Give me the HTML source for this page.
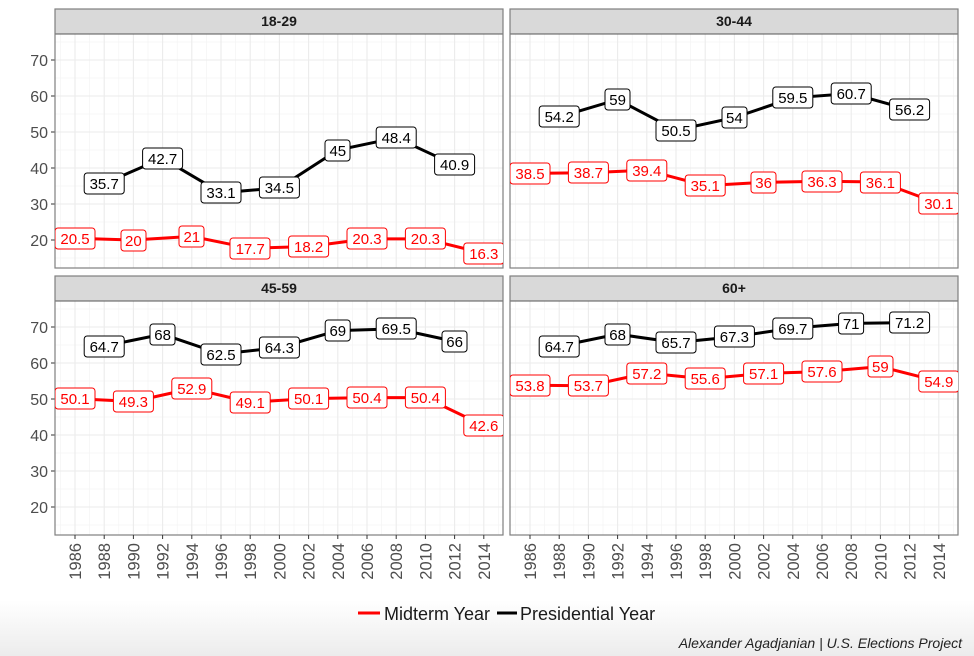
<!DOCTYPE html>
<html><head><meta charset="utf-8"><style>
html,body{margin:0;padding:0;background:#fff}
svg{display:block;font-family:"Liberation Sans",Arial,sans-serif}
.mj{stroke:#ebebeb;stroke-width:1.1}
.mn{stroke:#f4f4f4;stroke-width:0.7}
.yl{font-size:16px;fill:#4d4d4d;text-anchor:end}
.xl{font-size:16.5px;fill:#4d4d4d;text-anchor:end}
.st{font-size:14px;font-weight:bold;fill:#1a1a1a;text-anchor:middle}
.r rect{fill:#fff;stroke:#ff0000;stroke-width:1}
.r text{fill:#ff0000;font-size:15px;text-anchor:middle}
.k rect{fill:#fff;stroke:#000;stroke-width:1}
.k text{fill:#000;font-size:15px;text-anchor:middle}
</style></head><body>
<svg width="974" height="656" viewBox="0 0 974 656">
<defs>
<linearGradient id="bg" x1="0" y1="0" x2="0" y2="1"><stop offset="0" stop-color="#fff"/><stop offset="1" stop-color="#ececec"/></linearGradient>
<g id="grid">
<rect x="55" y="34" width="448" height="234" fill="#fff"/>
<g class="mn">
<line x1="55" x2="503" y1="258" y2="258"/><line x1="55" x2="503" y1="222" y2="222"/><line x1="55" x2="503" y1="186" y2="186"/><line x1="55" x2="503" y1="150" y2="150"/><line x1="55" x2="503" y1="114" y2="114"/><line x1="55" x2="503" y1="78" y2="78"/><line x1="55" x2="503" y1="42" y2="42"/>
<line y1="34" y2="268" x1="60.4" x2="60.4"/><line y1="34" y2="268" x1="89.6" x2="89.6"/><line y1="34" y2="268" x1="118.8" x2="118.8"/><line y1="34" y2="268" x1="148" x2="148"/><line y1="34" y2="268" x1="177.2" x2="177.2"/><line y1="34" y2="268" x1="206.4" x2="206.4"/><line y1="34" y2="268" x1="235.6" x2="235.6"/><line y1="34" y2="268" x1="264.8" x2="264.8"/><line y1="34" y2="268" x1="294" x2="294"/><line y1="34" y2="268" x1="323.2" x2="323.2"/><line y1="34" y2="268" x1="352.4" x2="352.4"/><line y1="34" y2="268" x1="381.6" x2="381.6"/><line y1="34" y2="268" x1="410.8" x2="410.8"/><line y1="34" y2="268" x1="440" x2="440"/><line y1="34" y2="268" x1="469.2" x2="469.2"/><line y1="34" y2="268" x1="498.4" x2="498.4"/>
</g>
<g class="mj">
<line x1="55" x2="503" y1="240" y2="240"/><line x1="55" x2="503" y1="204" y2="204"/><line x1="55" x2="503" y1="168" y2="168"/><line x1="55" x2="503" y1="132" y2="132"/><line x1="55" x2="503" y1="96" y2="96"/><line x1="55" x2="503" y1="60" y2="60"/>
<line y1="34" y2="268" x1="75" x2="75"/><line y1="34" y2="268" x1="104.2" x2="104.2"/><line y1="34" y2="268" x1="133.4" x2="133.4"/><line y1="34" y2="268" x1="162.6" x2="162.6"/><line y1="34" y2="268" x1="191.8" x2="191.8"/><line y1="34" y2="268" x1="221" x2="221"/><line y1="34" y2="268" x1="250.2" x2="250.2"/><line y1="34" y2="268" x1="279.4" x2="279.4"/><line y1="34" y2="268" x1="308.6" x2="308.6"/><line y1="34" y2="268" x1="337.8" x2="337.8"/><line y1="34" y2="268" x1="367" x2="367"/><line y1="34" y2="268" x1="396.2" x2="396.2"/><line y1="34" y2="268" x1="425.4" x2="425.4"/><line y1="34" y2="268" x1="454.6" x2="454.6"/><line y1="34" y2="268" x1="483.8" x2="483.8"/>
</g>
<rect x="55" y="9" width="448" height="25" fill="#d9d9d9" stroke="#555" stroke-width="1"/>
</g>
<clipPath id="c1"><rect x="55" y="34" width="448" height="234"/></clipPath>
<clipPath id="c2"><rect x="510" y="34" width="448" height="234"/></clipPath>
<clipPath id="c3"><rect x="55" y="301" width="448" height="234"/></clipPath>
<clipPath id="c4"><rect x="510" y="301" width="448" height="234"/></clipPath>
</defs>
<rect x="0" y="600" width="974" height="56" fill="url(#bg)"/>
<use href="#grid"/>
<use href="#grid" transform="translate(455,0)"/>
<use href="#grid" transform="translate(0,267)"/>
<use href="#grid" transform="translate(455,267)"/>
<text class="st" x="279" y="26">18-29</text>
<text class="st" x="734" y="26">30-44</text>
<text class="st" x="279" y="293">45-59</text>
<text class="st" x="734" y="293">60+</text>

<g stroke="#333" stroke-width="1">
<line x1="51" x2="55" y1="240" y2="240"/><line x1="51" x2="55" y1="204" y2="204"/><line x1="51" x2="55" y1="168" y2="168"/><line x1="51" x2="55" y1="132" y2="132"/><line x1="51" x2="55" y1="96" y2="96"/><line x1="51" x2="55" y1="60" y2="60"/>
<line x1="51" x2="55" y1="507" y2="507"/><line x1="51" x2="55" y1="471" y2="471"/><line x1="51" x2="55" y1="435" y2="435"/><line x1="51" x2="55" y1="399" y2="399"/><line x1="51" x2="55" y1="363" y2="363"/><line x1="51" x2="55" y1="327" y2="327"/>
</g>
<g class="yl">
<text x="48" y="246">20</text><text x="48" y="210">30</text><text x="48" y="174">40</text><text x="48" y="138">50</text><text x="48" y="102">60</text><text x="48" y="66">70</text>
<text x="48" y="513">20</text><text x="48" y="477">30</text><text x="48" y="441">40</text><text x="48" y="405">50</text><text x="48" y="369">60</text><text x="48" y="333">70</text>
</g>
<g fill="none" stroke="#7f7f7f" stroke-width="1.2">
<rect x="55" y="9" width="448" height="259"/><rect x="510" y="9" width="448" height="259"/>
<rect x="55" y="276" width="448" height="259"/><rect x="510" y="276" width="448" height="259"/>
</g>
<g stroke="#333" stroke-width="1">
<line y1="535" y2="539" x1="75" x2="75"/><line y1="535" y2="539" x1="104.2" x2="104.2"/><line y1="535" y2="539" x1="133.4" x2="133.4"/><line y1="535" y2="539" x1="162.6" x2="162.6"/><line y1="535" y2="539" x1="191.8" x2="191.8"/><line y1="535" y2="539" x1="221" x2="221"/><line y1="535" y2="539" x1="250.2" x2="250.2"/><line y1="535" y2="539" x1="279.4" x2="279.4"/><line y1="535" y2="539" x1="308.6" x2="308.6"/><line y1="535" y2="539" x1="337.8" x2="337.8"/><line y1="535" y2="539" x1="367" x2="367"/><line y1="535" y2="539" x1="396.2" x2="396.2"/><line y1="535" y2="539" x1="425.4" x2="425.4"/><line y1="535" y2="539" x1="454.6" x2="454.6"/><line y1="535" y2="539" x1="483.8" x2="483.8"/>
<line y1="535" y2="539" x1="530" x2="530"/><line y1="535" y2="539" x1="559.2" x2="559.2"/><line y1="535" y2="539" x1="588.4" x2="588.4"/><line y1="535" y2="539" x1="617.6" x2="617.6"/><line y1="535" y2="539" x1="646.8" x2="646.8"/><line y1="535" y2="539" x1="676" x2="676"/><line y1="535" y2="539" x1="705.2" x2="705.2"/><line y1="535" y2="539" x1="734.4" x2="734.4"/><line y1="535" y2="539" x1="763.6" x2="763.6"/><line y1="535" y2="539" x1="792.8" x2="792.8"/><line y1="535" y2="539" x1="822" x2="822"/><line y1="535" y2="539" x1="851.2" x2="851.2"/><line y1="535" y2="539" x1="880.4" x2="880.4"/><line y1="535" y2="539" x1="909.6" x2="909.6"/><line y1="535" y2="539" x1="938.8" x2="938.8"/>
</g>
<g class="xl">
<text transform="translate(81,543) rotate(-90)">1986</text><text transform="translate(110.2,543) rotate(-90)">1988</text><text transform="translate(139.4,543) rotate(-90)">1990</text><text transform="translate(168.6,543) rotate(-90)">1992</text><text transform="translate(197.8,543) rotate(-90)">1994</text><text transform="translate(227,543) rotate(-90)">1996</text><text transform="translate(256.2,543) rotate(-90)">1998</text><text transform="translate(285.4,543) rotate(-90)">2000</text><text transform="translate(314.6,543) rotate(-90)">2002</text><text transform="translate(343.8,543) rotate(-90)">2004</text><text transform="translate(373,543) rotate(-90)">2006</text><text transform="translate(402.2,543) rotate(-90)">2008</text><text transform="translate(431.4,543) rotate(-90)">2010</text><text transform="translate(460.6,543) rotate(-90)">2012</text><text transform="translate(489.8,543) rotate(-90)">2014</text>
<text transform="translate(536,543) rotate(-90)">1986</text><text transform="translate(565.2,543) rotate(-90)">1988</text><text transform="translate(594.4,543) rotate(-90)">1990</text><text transform="translate(623.6,543) rotate(-90)">1992</text><text transform="translate(652.8,543) rotate(-90)">1994</text><text transform="translate(682,543) rotate(-90)">1996</text><text transform="translate(711.2,543) rotate(-90)">1998</text><text transform="translate(740.4,543) rotate(-90)">2000</text><text transform="translate(769.6,543) rotate(-90)">2002</text><text transform="translate(798.8,543) rotate(-90)">2004</text><text transform="translate(828,543) rotate(-90)">2006</text><text transform="translate(857.2,543) rotate(-90)">2008</text><text transform="translate(886.4,543) rotate(-90)">2010</text><text transform="translate(915.6,543) rotate(-90)">2012</text><text transform="translate(944.8,543) rotate(-90)">2014</text>
</g>

<g clip-path="url(#c1)">
<polyline fill="none" stroke="#ff0000" stroke-width="3" points="75,238.2 133.4,240 191.8,236.4 250.2,248.3 308.6,246.5 367,238.9 425.4,238.9 483.8,253.3"/>
<polyline fill="none" stroke="#000" stroke-width="3" points="104.2,183.5 162.6,158.3 221,192.8 279.4,187.8 337.8,150 396.2,137.8 454.6,164.8"/>
<g class="r">
<rect x="55" y="228" width="40" height="21" rx="3"/><text x="75" y="244">20.5</text>
<rect x="121" y="230" width="25" height="21" rx="3"/><text x="133.4" y="246">20</text>
<rect x="179" y="226" width="25" height="21" rx="3"/><text x="191.8" y="242">21</text>
<rect x="230" y="238" width="40" height="21" rx="3"/><text x="250.2" y="254">17.7</text>
<rect x="288.6" y="236" width="40" height="21" rx="3"/><text x="308.6" y="252">18.2</text>
<rect x="347" y="228" width="40" height="21" rx="3"/><text x="367" y="244">20.3</text>
<rect x="405.4" y="228" width="40" height="21" rx="3"/><text x="425.4" y="244">20.3</text>
<rect x="463.8" y="243" width="40" height="21" rx="3"/><text x="483.8" y="259">16.3</text>
</g>
<g class="k">
<rect x="84.2" y="173" width="40" height="21" rx="3"/><text x="104.2" y="189">35.7</text>
<rect x="142.6" y="148" width="40" height="21" rx="3"/><text x="162.6" y="164">42.7</text>
<rect x="201" y="182" width="40" height="21" rx="3"/><text x="221" y="198">33.1</text>
<rect x="259.4" y="177" width="40" height="21" rx="3"/><text x="279.4" y="193">34.5</text>
<rect x="325" y="140" width="25" height="21" rx="3"/><text x="337.8" y="156">45</text>
<rect x="376.2" y="127" width="40" height="21" rx="3"/><text x="396.2" y="143">48.4</text>
<rect x="434.6" y="154" width="40" height="21" rx="3"/><text x="454.6" y="170">40.9</text>
</g>
</g>

<g clip-path="url(#c2)">
<polyline fill="none" stroke="#ff0000" stroke-width="3" points="530,173.4 588.4,172.7 646.8,170.2 705.2,185.6 763.6,182.4 822,181.3 880.4,182 938.8,203.6"/>
<polyline fill="none" stroke="#000" stroke-width="3" points="559.2,116.9 617.6,99.6 676,130.2 734.4,117.6 792.8,97.8 851.2,93.5 909.6,109.7"/>
<g class="r">
<rect x="510" y="163" width="40" height="21" rx="3"/><text x="530" y="179">38.5</text>
<rect x="568.4" y="162" width="40" height="21" rx="3"/><text x="588.4" y="178">38.7</text>
<rect x="626.8" y="160" width="40" height="21" rx="3"/><text x="646.8" y="176">39.4</text>
<rect x="685.2" y="175" width="40" height="21" rx="3"/><text x="705.2" y="191">35.1</text>
<rect x="751" y="172" width="25" height="21" rx="3"/><text x="763.6" y="188">36</text>
<rect x="802" y="171" width="40" height="21" rx="3"/><text x="822" y="187">36.3</text>
<rect x="860.4" y="172" width="40" height="21" rx="3"/><text x="880.4" y="188">36.1</text>
<rect x="918.8" y="193" width="40" height="21" rx="3"/><text x="938.8" y="209">30.1</text>
</g>
<g class="k">
<rect x="539.2" y="106" width="40" height="21" rx="3"/><text x="559.2" y="122">54.2</text>
<rect x="605" y="89" width="25" height="21" rx="3"/><text x="617.6" y="105">59</text>
<rect x="656" y="120" width="40" height="21" rx="3"/><text x="676" y="136">50.5</text>
<rect x="722" y="107" width="25" height="21" rx="3"/><text x="734.4" y="123">54</text>
<rect x="772.8" y="87" width="40" height="21" rx="3"/><text x="792.8" y="103">59.5</text>
<rect x="831.2" y="83" width="40" height="21" rx="3"/><text x="851.2" y="99">60.7</text>
<rect x="889.6" y="99" width="40" height="21" rx="3"/><text x="909.6" y="115">56.2</text>
</g>
</g>

<g clip-path="url(#c3)">
<polyline fill="none" stroke="#ff0000" stroke-width="3" points="75,398.6 133.4,401.5 191.8,388.6 250.2,402.2 308.6,398.6 367,397.6 425.4,397.6 483.8,425.6"/>
<polyline fill="none" stroke="#000" stroke-width="3" points="104.2,346.1 162.6,334.2 221,354 279.4,347.5 337.8,330.6 396.2,328.8 454.6,341.4"/>
<g class="r">
<rect x="55" y="388" width="40" height="21" rx="3"/><text x="75" y="404">50.1</text>
<rect x="113.4" y="391" width="40" height="21" rx="3"/><text x="133.4" y="407">49.3</text>
<rect x="171.8" y="378" width="40" height="21" rx="3"/><text x="191.8" y="394">52.9</text>
<rect x="230.2" y="392" width="40" height="21" rx="3"/><text x="250.2" y="408">49.1</text>
<rect x="288.6" y="388" width="40" height="21" rx="3"/><text x="308.6" y="404">50.1</text>
<rect x="347" y="387" width="40" height="21" rx="3"/><text x="367" y="403">50.4</text>
<rect x="405.4" y="387" width="40" height="21" rx="3"/><text x="425.4" y="403">50.4</text>
<rect x="463.8" y="415" width="40" height="21" rx="3"/><text x="483.8" y="431">42.6</text>
</g>
<g class="k">
<rect x="84.2" y="336" width="40" height="21" rx="3"/><text x="104.2" y="352">64.7</text>
<rect x="150" y="324" width="25" height="21" rx="3"/><text x="162.6" y="340">68</text>
<rect x="201" y="344" width="40" height="21" rx="3"/><text x="221" y="360">62.5</text>
<rect x="259.4" y="337" width="40" height="21" rx="3"/><text x="279.4" y="353">64.3</text>
<rect x="325.2" y="320" width="25" height="21" rx="3"/><text x="337.8" y="336">69</text>
<rect x="376.2" y="318" width="40" height="21" rx="3"/><text x="396.2" y="334">69.5</text>
<rect x="442" y="331" width="25" height="21" rx="3"/><text x="454.6" y="347">66</text>
</g>
</g>

<g clip-path="url(#c4)">
<polyline fill="none" stroke="#ff0000" stroke-width="3" points="530,385.3 588.4,385.7 646.8,373.1 705.2,378.8 763.6,373.4 822,371.6 880.4,366.6 938.8,381.4"/>
<polyline fill="none" stroke="#000" stroke-width="3" points="559.2,346.1 617.6,334.2 676,342.5 734.4,336.7 792.8,328.1 851.2,323.4 909.6,322.7"/>
<g class="r">
<rect x="510" y="375" width="40" height="21" rx="3"/><text x="530" y="391">53.8</text>
<rect x="568.4" y="375" width="40" height="21" rx="3"/><text x="588.4" y="391">53.7</text>
<rect x="626.8" y="363" width="40" height="21" rx="3"/><text x="646.8" y="379">57.2</text>
<rect x="685.2" y="368" width="40" height="21" rx="3"/><text x="705.2" y="384">55.6</text>
<rect x="743.6" y="363" width="40" height="21" rx="3"/><text x="763.6" y="379">57.1</text>
<rect x="802" y="361" width="40" height="21" rx="3"/><text x="822" y="377">57.6</text>
<rect x="868" y="356" width="25" height="21" rx="3"/><text x="880.4" y="372">59</text>
<rect x="918.8" y="371" width="40" height="21" rx="3"/><text x="938.8" y="387">54.9</text>
</g>
<g class="k">
<rect x="539.2" y="336" width="40" height="21" rx="3"/><text x="559.2" y="352">64.7</text>
<rect x="605" y="324" width="25" height="21" rx="3"/><text x="617.6" y="340">68</text>
<rect x="656" y="332" width="40" height="21" rx="3"/><text x="676" y="348">65.7</text>
<rect x="714.4" y="326" width="40" height="21" rx="3"/><text x="734.4" y="342">67.3</text>
<rect x="772.8" y="318" width="40" height="21" rx="3"/><text x="792.8" y="334">69.7</text>
<rect x="838.6" y="313" width="25" height="21" rx="3"/><text x="851.2" y="329">71</text>
<rect x="889.6" y="312" width="40" height="21" rx="3"/><text x="909.6" y="328">71.2</text>
</g>
</g>

<line x1="358" x2="380" y1="613" y2="613" stroke="#ff0000" stroke-width="3"/>
<text x="384" y="620" font-size="18" fill="#1a1a1a">Midterm Year</text>
<line x1="497" x2="517" y1="613" y2="613" stroke="#000" stroke-width="3"/>
<text x="520" y="620" font-size="18" fill="#1a1a1a">Presidential Year</text>
<text x="962" y="648" font-size="14" font-style="italic" fill="#222" text-anchor="end">Alexander Agadjanian | U.S. Elections Project</text>
</svg>
</body></html>
